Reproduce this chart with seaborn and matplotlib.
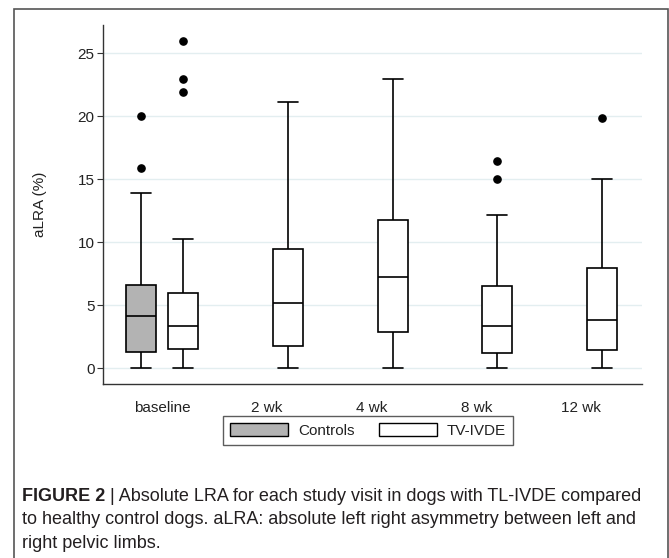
import numpy as np
import pandas as pd
import matplotlib
matplotlib.use("Agg")
import matplotlib.pyplot as plt
from matplotlib.patches import Patch, Rectangle
import seaborn as sns

# ---- data ----
categories = ["baseline", "2 wk", "4 wk", "8 wk", "12 wk"]
groups = ["Controls", "TV-IVDE"]

ctrl_cats = ["baseline"]
ctrl_lo = [0.0]
ctrl_q1 = [1.27]
ctrl_med = [4.17]
ctrl_q3 = [6.63]
ctrl_hi = [13.9]
ctrl_out = [[15.9, 20.0]]

tv_lo = [0.0, 0.0, 0.0, 0.0, 0.0]
tv_q1 = [1.56, 1.75, 2.90, 1.24, 1.43]
tv_med = [3.33, 5.16, 7.22, 3.38, 3.83]
tv_q3 = [5.95, 9.50, 11.77, 6.53, 7.94]
tv_hi = [10.3, 21.1, 23.0, 12.15, 15.0]
tv_out = [[21.9, 23.0, 26.0], [], [], [15.0, 16.45], [19.85]]

yticks = [0, 5, 10, 15, 20, 25]


def sample(lo, q1, med, q3, hi, outs):
    # observations whose quartiles / whiskers / outliers equal the read values
    m = len(outs) + 1
    return [lo] + [q1] * m + [med] * m + [q3] * m + [hi] + list(outs)


rows = []
for i, c in enumerate(ctrl_cats):
    for v in sample(ctrl_lo[i], ctrl_q1[i], ctrl_med[i], ctrl_q3[i], ctrl_hi[i], ctrl_out[i]):
        rows.append((c, "Controls", v))
for i, c in enumerate(categories):
    for v in sample(tv_lo[i], tv_q1[i], tv_med[i], tv_q3[i], tv_hi[i], tv_out[i]):
        rows.append((c, "TV-IVDE", v))
df = pd.DataFrame(rows, columns=["visit", "group", "aLRA"])

sns.set_theme(style="white")
plt.rcParams["font.family"] = ["Liberation Sans", "DejaVu Sans"]

fig = plt.figure(figsize=(6.69, 5.58), dpi=100)
ax = fig.add_axes([103.3 / 669, 1 - 384 / 558, (641.7 - 103.3) / 669, (384 - 25) / 558])

palette = {"Controls": "#b3b3b3", "TV-IVDE": "white"}
sns.boxplot(data=df, x="visit", y="aLRA", hue="group", order=categories,
            hue_order=groups, palette=palette, dodge=True, width=0.8, gap=0.28,
            linecolor="black", linewidth=1.2, saturation=1, legend=False,
            capwidths=0.19,
            flierprops=dict(marker="o", markerfacecolor="black",
                            markeredgecolor="black", markersize=5.2),
            ax=ax, zorder=3)

ax.set_xlim(-0.564, 4.579)
ax.set_ylim(-1.25, 27.25)
ax.set_yticks(yticks)
ax.set_yticklabels([str(t) for t in yticks])
ax.yaxis.grid(True, color="#e3eef0", linewidth=1.0)
ax.set_axisbelow(True)
for s in ["top", "right"]:
    ax.spines[s].set_visible(False)
for s in ["left", "bottom"]:
    ax.spines[s].set_color("#333333")
    ax.spines[s].set_linewidth(1.0)
ax.tick_params(axis="y", left=True, length=4.3, width=0.8, color="#333333",
               labelsize=11, pad=2, labelcolor="#222222")
ax.tick_params(axis="x", bottom=False, labelsize=11, pad=6, labelcolor="#222222")
ax.set_xlabel("")
ax.set_ylabel("aLRA (%)", fontsize=11, color="#222222", labelpad=22)

handles = [Patch(facecolor=palette[g], edgecolor="black", linewidth=1.0, label=g)
           for g in groups]
leg = fig.legend(handles=handles, loc="center", ncol=2,
                 bbox_to_anchor=(368 / 669, 1 - 430.5 / 558),
                 fontsize=11, frameon=True, fancybox=False,
                 handlelength=3.8, handleheight=0.9, handletextpad=0.65,
                 columnspacing=1.6, borderpad=0.45)
leg.get_frame().set_edgecolor("#333333")
leg.get_frame().set_linewidth(1.0)
for t in leg.get_texts():
    t.set_color("#222222")

# outer frame (open at the bottom)
fig.patches.append(Rectangle((14 / 669, -0.05), (668 - 14) / 669, 1.05 - 9 / 558,
                             transform=fig.transFigure, fill=False,
                             edgecolor="#555555", linewidth=1.2))

# caption
cap_size = 13
cap_color = "#231f20"
x0 = 22 / 669
fig.canvas.draw()
renderer = fig.canvas.get_renderer()
t1 = fig.text(x0, 1 - 501 / 558, "FIGURE 2 ", fontsize=cap_size, fontweight="bold",
              color=cap_color, va="baseline", ha="left")
bb = t1.get_window_extent(renderer=renderer)
fig.text(bb.x1 / fig.bbox.width, 1 - 501 / 558,
         "| Absolute LRA for each study visit in dogs with TL-IVDE compared",
         fontsize=cap_size, color=cap_color, va="baseline", ha="left")
fig.text(x0, 1 - 524.5 / 558,
         "to healthy control dogs. aLRA: absolute left right asymmetry between left and",
         fontsize=cap_size, color=cap_color, va="baseline", ha="left")
fig.text(x0, 1 - 548 / 558, "right pelvic limbs.",
         fontsize=cap_size, color=cap_color, va="baseline", ha="left")

fig.savefig("out.png", dpi=100)
